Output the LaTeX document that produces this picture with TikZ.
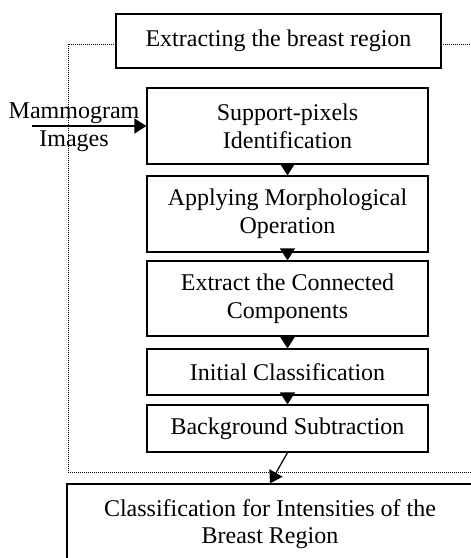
\documentclass[tikz,border=0pt]{standalone}
\usepackage{fontspec}
\setmainfont{Liberation Serif}
\usetikzlibrary{arrows.meta}
\tikzset{
    stage/.style={draw,line width=0.6pt,fill=white,align=center,inner sep=0pt,minimum width=140.5pt,font=\fontsize{12}{13.8}\selectfont},
    flow/.style={line width=0.6pt,-{Triangle[width=7.5pt,length=6pt]}},
}
\begin{document}
\begin{tikzpicture}[x=0.5pt,y=-0.5pt]

            \useasboundingbox (0,0) rectangle (471,558);
            \clip (0,0) rectangle (471,558);
            \draw[line width=0.5pt,dash pattern=on 0.5pt off 0.5pt] (480,44) -- (68,44) -- (68,472) -- (480,472);
            \node[stage,minimum width=162.5pt,minimum height=27pt] (region) at (278.5,41) {Extracting the breast region};
            \node[font=\fontsize{12}{13.8}\selectfont,align=center,inner sep=0pt] (images) at (74,127) {Mammogram\\Images};
            \coordinate (input) at (32,126);
            \node[stage,minimum height=38pt] (support) at (287.5,126) {Support-pixels\\Identification};
            \node[stage,minimum height=38pt] (morph) at (287.5,214) {Applying Morphological\\Operation};
            \node[stage,minimum height=37.5pt] (connect) at (287.5,298.5) {Extract the Connected\\Components};
            \node[stage,minimum height=23pt] (initial) at (287.5,372) {Initial Classification};
            \node[stage,minimum height=23.5pt] (background) at (287.5,428.5) {Background Subtraction};
            \node[stage,minimum width=203pt,minimum height=40pt] (intensity) at (270,524) {Classification for Intensities of the\\Breast Region};
            \draw[flow] (input) -- (support);
            \draw[flow] (support) -- (morph);
            \draw[flow] (morph) -- (connect);
            \draw[flow] (connect) -- (initial);
            \draw[flow] (initial) -- (background);
            \draw[flow] (background.south) -- (intensity.north);
            \end{tikzpicture}
\end{document}
